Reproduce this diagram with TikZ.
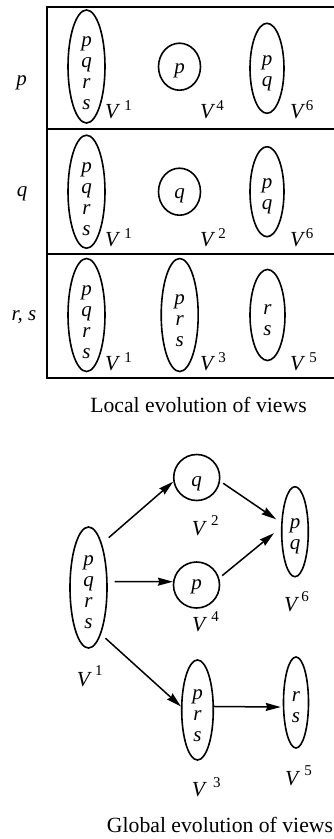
\documentclass[tikz,border=0pt]{standalone}
\usepackage{fontspec}
\setmainfont{Liberation Serif}
\usetikzlibrary{shapes.geometric,arrows.meta}
\tikzset{
  view/.style={draw, ellipse, line width=1.6pt, inner sep=0pt},
  lett/.style={font=\fontsize{21}{21}\selectfont\itshape, align=center, inner sep=0pt},
  lab/.style={anchor=base west, inner sep=0pt, font=\fontsize{21.5}{21}\selectfont},
  rowlab/.style={anchor=base, inner sep=0pt, font=\fontsize{21}{21}\selectfont\itshape},
  captext/.style={anchor=base, inner sep=0pt, font=\fontsize{21.7}{22}\selectfont},
  arr/.style={line width=1.5pt, -{Stealth[length=15pt,width=8pt,inset=1.5pt]}},
  gridline/.style={line width=1.7pt},
}
\newcommand{\vlab}[3]{\textit{V}\kern#1\raisebox{#2}{\fontsize{15}{15}\selectfont #3}}
\begin{document}
\begin{tikzpicture}[x=1pt,y=-1pt]
\useasboundingbox (0,0) rectangle (333,839);

% ---- local evolution grid ----
\draw[gridline] (334,6.7) -- (47,6.7) -- (47,378.3) -- (334,378.3);
\draw[gridline] (47,129) -- (334,129);
\draw[gridline] (47,254) -- (334,254);

\node[rowlab] (rp) at (21.7,85) {p};
\node[rowlab] (rq) at (22,196) {q};
\node[rowlab] (rrs) at (24,320) {r, s};

% row p
\node[view, minimum width=37pt, minimum height=113pt] (a1) at (86.5,66.5) {};
\node[lett, yshift=-7pt] (a1t) at (a1) {p\\q\\r\\s};
\node[view, minimum width=42pt, minimum height=47pt] (a4) at (179.5,66.7) {};
\node[lett, yshift=-4pt] (a4t) at (a4) {p};
\node[view, minimum width=34pt, minimum height=90pt] (a6) at (267,68.3) {};
\node[lett, yshift=-5pt] (a6t) at (a6) {p\\q};
\node[lab] (a1l) at (105,118.3) {\vlab{4pt}{8pt}{1}};
\node[lab] (a4l) at (200,118.3) {\vlab{1pt}{8pt}{4}};
\node[lab] (a6l) at (290,118.3) {\vlab{0.5pt}{8pt}{6}};

% row q
\node[view, minimum width=37pt, minimum height=113pt] (b1) at (86.5,191.7) {};
\node[lett, yshift=-7pt] (b1t) at (b1) {p\\q\\r\\s};
\node[view, minimum width=42pt, minimum height=47pt] (b2) at (179.5,191.7) {};
\node[lett, yshift=-4pt] (b2t) at (b2) {q};
\node[view, minimum width=34pt, minimum height=90pt] (b6) at (267,191.7) {};
\node[lett, yshift=-5pt] (b6t) at (b6) {p\\q};
\node[lab] (b1l) at (105,246) {\vlab{4pt}{8pt}{1}};
\node[lab] (b2l) at (200,246) {\vlab{3pt}{8pt}{2}};
\node[lab] (b6l) at (290,246) {\vlab{0.5pt}{8pt}{6}};

% row r,s
\node[view, minimum width=37pt, minimum height=113pt] (c1) at (86.5,315) {};
\node[lett, yshift=-7pt] (c1t) at (c1) {p\\q\\r\\s};
\node[view, minimum width=37pt, minimum height=113pt] (c3) at (179.7,315) {};
\node[lett, yshift=-6pt] (c3t) at (c3) {p\\r\\s};
\node[view, minimum width=35pt, minimum height=91pt] (c5) at (267.5,315) {};
\node[lett, yshift=-5pt] (c5t) at (c5) {r\\s};
\node[lab] (c1l) at (105,370) {\vlab{4pt}{8pt}{1}};
\node[lab] (c3l) at (200,370) {\vlab{3pt}{8pt}{3}};
\node[lab] (c5l) at (290,370) {\vlab{4pt}{8pt}{5}};

\node[captext] (cap1) at (198.5,412.7) {Local evolution of views};

% ---- global evolution graph ----
\node[view, minimum width=37pt, minimum height=121pt] (g1) at (88.5,587.5) {};
\node[lett, yshift=-5pt] (g1t) at (g1) {p\\q\\r\\s};
\node[view, minimum width=46pt, minimum height=46pt] (g2) at (196.7,477.5) {};
\node[lett, yshift=-6pt] (g2t) at (g2) {q};
\node[view, minimum width=46pt, minimum height=46pt] (g4) at (196.5,585) {};
\node[lett, yshift=-2pt] (g4t) at (g4) {p};
\node[view, minimum width=26.6pt, minimum height=90pt] (g6) at (295,531.7) {};
\node[lett, yshift=-5pt] (g6t) at (g6) {p\\q};
\node[view, minimum width=31.6pt, minimum height=100pt] (g3) at (197.5,710) {};
\node[lett, yshift=-6pt] (g3t) at (g3) {p\\r\\s};
\node[view, minimum width=25pt, minimum height=91pt] (g5) at (296,702.5) {};
\node[lett, yshift=-5pt] (g5t) at (g5) {r\\s};

\node[lab] (g1l) at (76.7,686) {\vlab{3pt}{11pt}{1}};
\node[lab] (g2l) at (191.7,535) {\vlab{4pt}{10pt}{2}};
\node[lab] (g4l) at (192,631.7) {\vlab{4pt}{10pt}{4}};
\node[lab] (g6l) at (284,611.7) {\vlab{2pt}{10pt}{6}};
\node[lab] (g3l) at (191.7,796.7) {\vlab{6pt}{9pt}{3}};
\node[lab] (g5l) at (285,785.7) {\vlab{4pt}{10pt}{5}};

\draw[arr, shorten <=9pt] (g1.73) -- (g2.190);
\draw[arr, shorten <=7pt] (g1.17) -- (g4.172);
\draw[arr, shorten <=6pt] (g1.-75) -- (g3.168);
\draw[arr, shorten <=3.6pt, shorten >=6pt] (g2.-9) -- (g6.147);
\draw[arr, shorten <=3.8pt, shorten >=9pt] (g4.17) -- (g6.163);
\draw[arr, shorten >=2pt] (g3.12) -- (g5.199);

\node[captext] (cap2) at (220,832.7) {Global evolution of views};
\end{tikzpicture}
\end{document}
